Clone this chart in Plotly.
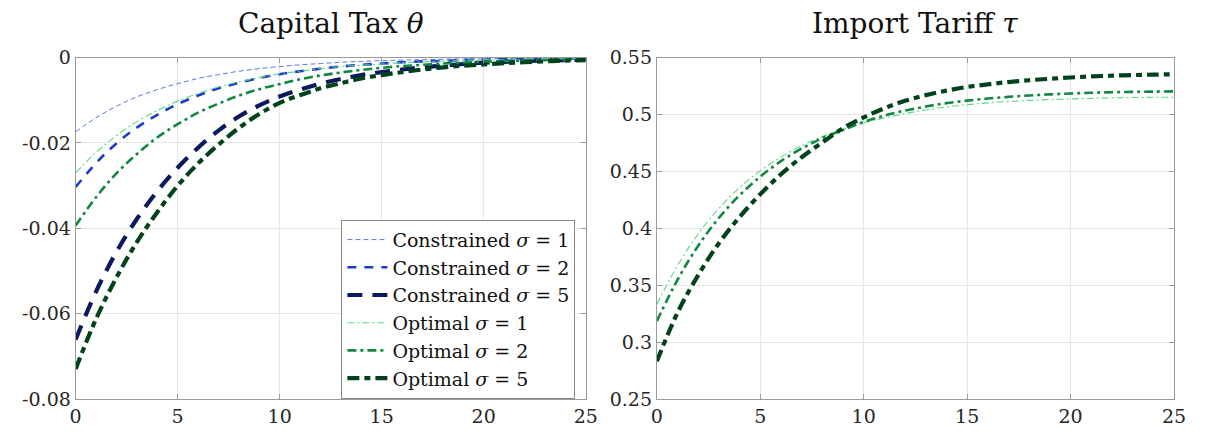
import plotly.graph_objects as go

# Periods
t = list(range(26))

# Capital tax paths
cap_constrained_s1 = [-0.0174, -0.0141, -0.0114, -0.0092, -0.0075, -0.0061, -0.0049, -0.0040, -0.0032,
                      -0.0026, -0.0021, -0.0017, -0.0014, -0.0011, -0.0009, -0.0007, -0.0006, -0.0005,
                      -0.0004, -0.0003, -0.0003, -0.0002, -0.0002, -0.0001, -0.0001, -0.0001]
cap_constrained_s2 = [-0.0303, -0.0247, -0.0201, -0.0164, -0.0134, -0.0109, -0.0089, -0.0072, -0.0059,
                      -0.0048, -0.0039, -0.0032, -0.0026, -0.0021, -0.0017, -0.0014, -0.0011, -0.0009,
                      -0.0008, -0.0006, -0.0005, -0.0004, -0.0003, -0.0003, -0.0002, -0.0002]
cap_constrained_s5 = [-0.0660, -0.0548, -0.0455, -0.0378, -0.0313, -0.0258, -0.0211, -0.0171, -0.0138,
                      -0.0112, -0.0091, -0.0075, -0.0061, -0.0050, -0.0041, -0.0034, -0.0028, -0.0023,
                      -0.0019, -0.0015, -0.0012, -0.0010, -0.0008, -0.0007, -0.0006, -0.0005]
cap_optimal_s1 = [-0.0270, -0.0222, -0.0183, -0.0150, -0.0124, -0.0102, -0.0084, -0.0069, -0.0057,
                  -0.0047, -0.0038, -0.0032, -0.0026, -0.0021, -0.0018, -0.0015, -0.0012, -0.0010,
                  -0.0008, -0.0007, -0.0005, -0.0005, -0.0004, -0.0003, -0.0003, -0.0002]
cap_optimal_s2 = [-0.0393, -0.0327, -0.0271, -0.0226, -0.0187, -0.0156, -0.0129, -0.0108, -0.0089,
                  -0.0074, -0.0062, -0.0051, -0.0042, -0.0035, -0.0029, -0.0024, -0.0020, -0.0017,
                  -0.0014, -0.0012, -0.0010, -0.0008, -0.0007, -0.0006, -0.0005, -0.0004]
cap_optimal_s5 = [-0.0729, -0.0612, -0.0515, -0.0432, -0.0362, -0.0300, -0.0248, -0.0204, -0.0165,
                  -0.0132, -0.0106, -0.0088, -0.0072, -0.0060, -0.0049, -0.0041, -0.0034, -0.0028,
                  -0.0023, -0.0019, -0.0016, -0.0013, -0.0011, -0.0009, -0.0007, -0.0006]

# Import tariff paths (optimal policy)
tariff_s1 = [0.3334, 0.3674, 0.3951, 0.4176, 0.4358, 0.4507, 0.4627, 0.4726, 0.4806, 0.4871,
             0.4926, 0.4970, 0.5008, 0.5040, 0.5066, 0.5086, 0.5102, 0.5114, 0.5124, 0.5131,
             0.5137, 0.5142, 0.5146, 0.5149, 0.5151, 0.5152]
tariff_s2 = [0.3186, 0.3549, 0.3848, 0.4092, 0.4291, 0.4455, 0.4590, 0.4701, 0.4792, 0.4864,
             0.4935, 0.4990, 0.5035, 0.5070, 0.5100, 0.5122, 0.5140, 0.5155, 0.5167, 0.5177,
             0.5185, 0.5191, 0.5196, 0.5199, 0.5201, 0.5203]
tariff_s5 = [0.2833, 0.3260, 0.3590, 0.3870, 0.4100, 0.4300, 0.4475, 0.4625, 0.4755, 0.4880,
             0.4975, 0.5055, 0.5120, 0.5170, 0.5210, 0.5242, 0.5265, 0.5285, 0.5301, 0.5314,
             0.5325, 0.5334, 0.5341, 0.5346, 0.5350, 0.5353]

left_yticks = [0, -0.02, -0.04, -0.06, -0.08]
left_yticktext = ["0", "-0.02", "-0.04", "-0.06", "-0.08"]
right_yticks = [0.25, 0.3, 0.35, 0.4, 0.45, 0.5, 0.55]
right_yticktext = ["0.25", "0.3", "0.35", "0.4", "0.45", "0.5", "0.55"]
xticks = [0, 5, 10, 15, 20, 25]

FONT = "DejaVu Serif, Liberation Serif, serif"

styles = {
    "c1": dict(color="#5b78f0", width=1.0, dash="5px,3px"),
    "c2": dict(color="#1c3cc2", width=2.6, dash="9px,8px"),
    "c5": dict(color="#0b1a5e", width=4.2, dash="15px,10px"),
    "o1": dict(color="#55d885", width=1.1, dash="7px,3px,2px,3px"),
    "o2": dict(color="#11873f", width=2.6, dash="9px,4px,3px,4px"),
    "o5": dict(color="#00431b", width=4.2, dash="12px,5px,6px,5px"),
}

fig = go.Figure()

left_series = [
    ("Constrained <i>σ</i> = 1", cap_constrained_s1, "c1"),
    ("Constrained <i>σ</i> = 2", cap_constrained_s2, "c2"),
    ("Constrained <i>σ</i> = 5", cap_constrained_s5, "c5"),
    ("Optimal <i>σ</i> = 1", cap_optimal_s1, "o1"),
    ("Optimal <i>σ</i> = 2", cap_optimal_s2, "o2"),
    ("Optimal <i>σ</i> = 5", cap_optimal_s5, "o5"),
]
for name, ys, key in left_series:
    fig.add_trace(go.Scatter(x=t, y=ys, mode="lines", name=name, line=dict(shape="spline", **styles[key]),
                             xaxis="x", yaxis="y", showlegend=True))

right_series = [
    (tariff_s1, "o1"),
    (tariff_s2, "o2"),
    (tariff_s5, "o5"),
]
for ys, key in right_series:
    fig.add_trace(go.Scatter(x=t, y=ys, mode="lines", line=dict(shape="spline", **styles[key]),
                             xaxis="x2", yaxis="y2", showlegend=False))

W, H = 1207, 443
ydom = [(H - 408.5) / H, (H - 49) / H]

axis_common = dict(
    showline=True, linecolor="#9a9a9a", linewidth=1, mirror="ticks",
    ticks="inside", ticklen=5, tickcolor="#9a9a9a",
    showgrid=True, gridcolor="#e6e6e6", gridwidth=1, zeroline=False,
    tickfont=dict(family=FONT, size=19, color="#262626"),
)

fig.update_layout(
    width=W, height=H,
    margin=dict(l=0, r=0, t=0, b=0),
    paper_bgcolor="white", plot_bgcolor="white",
    xaxis=dict(domain=[70.7 / W, 588.5 / W], range=[0, 25], tickvals=xticks, anchor="y", **axis_common),
    yaxis=dict(domain=ydom, range=[-0.08, 0], tickvals=left_yticks, ticktext=left_yticktext,
               anchor="x", **axis_common),
    xaxis2=dict(domain=[660.7 / W, 1185.7 / W], range=[0, 25], tickvals=xticks, anchor="y2", **axis_common),
    yaxis2=dict(domain=ydom, range=[0.25, 0.55], tickvals=right_yticks, ticktext=right_yticktext,
                anchor="x2", **axis_common),
    legend=dict(
        x=578 / W, y=(H - 408) / H, xanchor="right", yanchor="bottom",
        bgcolor="white", bordercolor="#8a8a8a", borderwidth=1,
        font=dict(family=FONT, size=19, color="#111111"),
        tracegroupgap=0, itemwidth=40,
    ),
    annotations=[
        dict(text="Capital Tax <i>θ</i>", x=(70.7 + 588.5) / 2 / W, y=(H - 13) / H, xref="paper", yref="paper",
             xanchor="center", yanchor="middle", showarrow=False,
             font=dict(family=FONT, size=28, color="#111111")),
        dict(text="Import Tariff <i>τ</i>", x=(660.7 + 1185.7) / 2 / W, y=(H - 13) / H, xref="paper",
             yref="paper", xanchor="center", yanchor="middle", showarrow=False,
             font=dict(family=FONT, size=28, color="#111111")),
    ],
)

fig.write_html("out.html")
